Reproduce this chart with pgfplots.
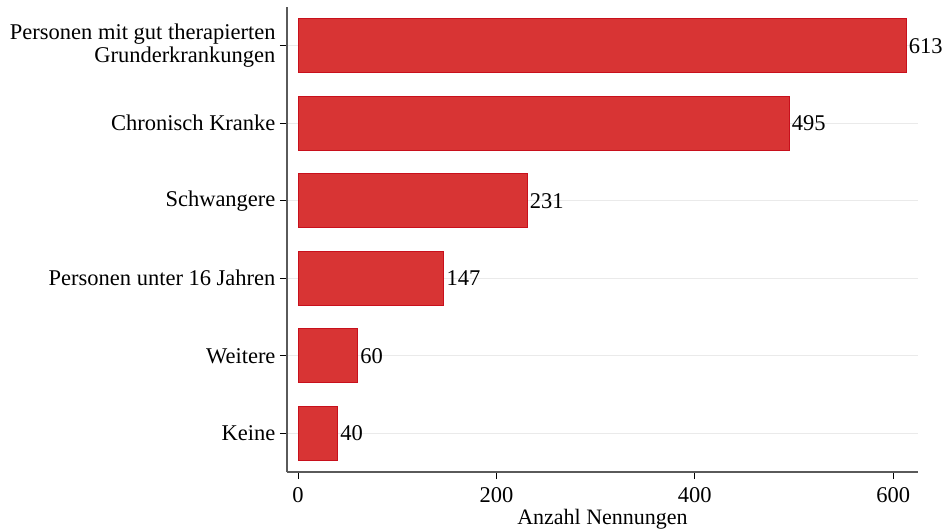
\documentclass[border=0pt]{standalone}
\usepackage{fontspec}
\setmainfont{Liberation Serif}
\usepackage{pgfplots}
\pgfplotsset{compat=1.18}
\definecolor{barfill}{RGB}{216,52,52}
\definecolor{baredge}{RGB}{200,16,28}
\definecolor{axisgray}{RGB}{90,90,90}
\definecolor{gridgray}{RGB}{234,234,234}
\begin{document}
\begin{tikzpicture}
\useasboundingbox (-287pt,-58pt) rectangle (660pt,472pt);
\begin{axis}[
    at={(0pt,0pt)}, anchor=south west,
    scale only axis,
    width=631pt, height=465pt,
    xbar, bar width=54pt,
    xmin=-11.1, xmax=625,
    ymin=0.5, ymax=6.5,
    axis x line*=bottom, axis y line*=left,
    axis line style={axisgray, line width=1.3pt},
    tick align=outside,
    major tick length=7pt,
    tick style={black, line width=1pt},
    xtick={0,200,400,600},
    ytick={1,2,3,4,5,6},
    yticklabels={Keine, Weitere, Personen unter 16 Jahren, Schwangere, Chronisch Kranke, {Personen mit gut therapierten\\Grunderkrankungen}},
    yticklabel style={align=right, font=\fontsize{22.5}{23}\selectfont, xshift=-1pt},
    xticklabel style={font=\fontsize{22.5}{23}\selectfont, yshift=-5pt},
    /pgf/number format/assume math mode=true,
    ymajorgrids,
    grid style={gridgray, line width=0.8pt},
    xlabel={Anzahl Nennungen},
    xlabel style={font=\fontsize{22}{23}\selectfont, at={(axis description cs:0.5,0)}, anchor=center, yshift=-47pt},
    nodes near coords,
    nodes near coords style={font=\fontsize{22.5}{23}\selectfont, anchor=west, xshift=-1pt},
]
\addplot[fill=barfill, draw=baredge, line width=0.8pt] coordinates {
    (40,1) (60,2) (147,3) (231,4) (495,5) (613,6)
};
\end{axis}
\end{tikzpicture}
\end{document}
